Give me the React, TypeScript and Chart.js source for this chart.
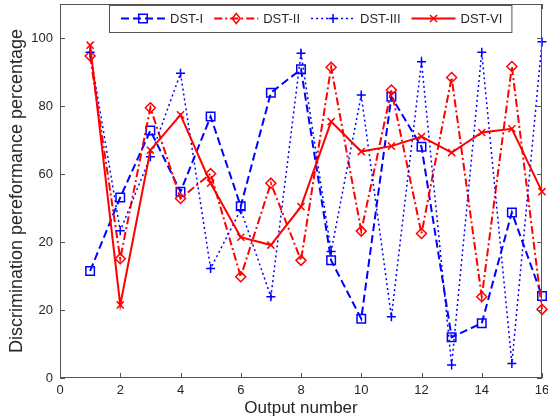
import React, { useEffect, useRef } from 'react';
import { Chart, registerables } from 'chart.js';

Chart.register(...registerables);

const outputNumbers = [1, 2, 3, 4, 5, 6, 7, 8, 9, 10, 11, 12, 13, 14, 15, 16];
const dstI = [31.5, 53.1, 72.8, 54.8, 76.9, 50.5, 83.9, 90.8, 34.6, 17.4, 82.7, 68.0, 12.0, 16.1, 48.7, 24.1];
const dstII = [94.7, 35.1, 79.5, 52.8, 60.1, 29.8, 57.3, 34.6, 91.4, 43.2, 84.7, 42.5, 88.4, 23.9, 91.6, 20.2];
const dstIII = [95.8, 43.3, 65.1, 89.6, 32.2, 49.5, 23.9, 95.5, 37.2, 83.2, 18.0, 93.0, 3.8, 95.8, 4.3, 98.9];
const dstVI = [97.9, 21.5, 67.0, 77.4, 57.3, 41.4, 39.1, 50.4, 75.4, 66.6, 68.2, 71.0, 66.3, 72.2, 73.3, 54.8];
const seriesLabels = ['DST-I', 'DST-II', 'DST-III', 'DST-VI'];
const xTickValues = [0, 2, 4, 6, 8, 10, 12, 14, 16];
const yTickValues = [0, 20, 40, 60, 80, 100];
const yTickLabels = ['0', '20', '20', '60', '80', '100'];
const xAxisTitle = 'Output number';
const yAxisTitle = 'Discrimination pereformance percentage';

const FONT = '"Liberation Sans", Arial, Helvetica, sans-serif';
const AXIS_COLOR = '#555555';
const TEXT_COLOR = '#262626';

type SeriesStyle = {
  color: string;
  dash: number[];
  width: number;
  marker: 'rect' | 'rectRot' | 'cross' | 'crossRot';
  radius: number;
};

const styles: SeriesStyle[] = [
  { color: '#0000ff', dash: [8, 4], width: 2, marker: 'rect', radius: 6 },
  { color: '#ff0000', dash: [8, 3, 2, 3], width: 2, marker: 'rectRot', radius: 5 },
  { color: '#0000ff', dash: [2, 3], width: 1.5, marker: 'cross', radius: 4.5 },
  { color: '#ff0000', dash: [], width: 2, marker: 'crossRot', radius: 5 },
];

function drawMarker(ctx: CanvasRenderingContext2D, s: SeriesStyle, x: number, y: number) {
  const r = s.radius;
  ctx.save();
  ctx.setLineDash([]);
  ctx.strokeStyle = s.color;
  ctx.lineWidth = 1.5;
  ctx.beginPath();
  if (s.marker === 'rect') {
    const h = r * Math.SQRT1_2;
    ctx.rect(x - h, y - h, 2 * h, 2 * h);
  } else if (s.marker === 'rectRot') {
    ctx.moveTo(x - r * 0.8, y);
    ctx.lineTo(x, y - r);
    ctx.lineTo(x + r * 0.8, y);
    ctx.lineTo(x, y + r);
    ctx.closePath();
  } else if (s.marker === 'cross') {
    ctx.moveTo(x - r, y);
    ctx.lineTo(x + r, y);
    ctx.moveTo(x, y - r);
    ctx.lineTo(x, y + r);
  } else {
    const h = r * Math.SQRT1_2;
    ctx.moveTo(x - h, y - h);
    ctx.lineTo(x + h, y + h);
    ctx.moveTo(x + h, y - h);
    ctx.lineTo(x - h, y + h);
  }
  ctx.stroke();
  ctx.restore();
}

const frameLegendPlugin = {
  id: 'frameLegend',
  afterDraw(chart: any) {
    const { ctx, chartArea, scales } = chart;
    const { left, right, top, bottom } = chartArea;
    const xs = scales.x;
    const ys = scales.y;
    ctx.save();
    ctx.strokeStyle = AXIS_COLOR;
    ctx.lineWidth = 1;
    ctx.setLineDash([]);
    ctx.strokeRect(left + 0.5, top + 0.5, right - left - 1, bottom - top - 1);
    const tl = 5;
    ctx.beginPath();
    xTickValues.forEach((v) => {
      const px = Math.round(xs.getPixelForValue(v)) + 0.5;
      ctx.moveTo(px, bottom);
      ctx.lineTo(px, bottom - tl);
      ctx.moveTo(px, top);
      ctx.lineTo(px, top + tl);
    });
    yTickValues.forEach((v) => {
      const py = Math.round(ys.getPixelForValue(v)) + 0.5;
      ctx.moveTo(left, py);
      ctx.lineTo(left + tl, py);
      ctx.moveTo(right, py);
      ctx.lineTo(right - tl, py);
    });
    ctx.stroke();

    // legend
    ctx.font = `13px ${FONT}`;
    const lineLen = 44;
    const gapText = 5;
    const gapItem = 11;
    const padL = 12;
    const padR = 9;
    let contentW = padL + padR;
    seriesLabels.forEach((lab, i) => {
      contentW += lineLen + gapText + ctx.measureText(lab).width + (i < seriesLabels.length - 1 ? gapItem : 0);
    });
    const boxL = 109;
    const boxT = top + 1;
    const boxH = 27;
    ctx.fillStyle = '#ffffff';
    ctx.fillRect(boxL, boxT, contentW, boxH);
    ctx.strokeStyle = AXIS_COLOR;
    ctx.strokeRect(boxL + 0.5, boxT + 0.5, contentW, boxH);
    const cy = boxT + boxH / 2;
    let cx = boxL + padL;
    seriesLabels.forEach((lab, i) => {
      const s = styles[i];
      ctx.save();
      ctx.strokeStyle = s.color;
      ctx.lineWidth = s.width;
      ctx.setLineDash(s.dash);
      ctx.beginPath();
      ctx.moveTo(cx, cy);
      ctx.lineTo(cx + lineLen, cy);
      ctx.stroke();
      ctx.restore();
      drawMarker(ctx, s, cx + lineLen / 2, cy);
      ctx.fillStyle = TEXT_COLOR;
      ctx.textBaseline = 'middle';
      ctx.textAlign = 'left';
      ctx.fillText(lab, cx + lineLen + gapText, cy + 1);
      cx += lineLen + gapText + ctx.measureText(lab).width + gapItem;
    });
    ctx.restore();
  },
};

function zeroPadding(scale: any) {
  scale.paddingTop = 0;
  scale.paddingBottom = 0;
  scale.paddingLeft = 0;
  scale.paddingRight = 0;
}

export default function App() {
  const canvasRef = useRef<HTMLCanvasElement | null>(null);

  useEffect(() => {
    document.body.style.margin = '0';
    const canvas = canvasRef.current;
    if (!canvas) return;
    const seriesValues = [dstI, dstII, dstIII, dstVI];
    const datasets = seriesValues.map((vals, i) => {
      const s = styles[i];
      return {
        label: seriesLabels[i],
        data: outputNumbers.map((x, k) => ({ x, y: vals[k] })),
        borderColor: s.color,
        backgroundColor: 'rgba(0,0,0,0)',
        borderWidth: s.width,
        borderDash: s.dash,
        pointStyle: s.marker,
        pointRadius: s.radius,
        pointBorderWidth: 1.5,
        pointBorderColor: s.color,
        pointBackgroundColor: 'rgba(0,0,0,0)',
        tension: 0,
        fill: false,
        clip: false,
        order: 3 - i,
      };
    });
    const chart = new Chart(canvas, {
      type: 'line',
      data: { datasets },
      options: {
        animation: false,
        responsive: false,
        devicePixelRatio: 1,
        layout: { autoPadding: false, padding: { left: 0, right: 6, top: 4, bottom: 0 } },
        plugins: { legend: { display: false }, tooltip: { enabled: false } },
        scales: {
          x: {
            type: 'linear',
            min: 0,
            max: 16,
            grid: { display: false, drawTicks: false },
            border: { display: false },
            afterBuildTicks: (scale: any) => {
              scale.ticks = xTickValues.map((v) => ({ value: v }));
            },
            afterFit: (scale: any) => {
              scale.height = 41;
              zeroPadding(scale);
            },
            ticks: {
              autoSkip: false,
              maxRotation: 0,
              padding: 5,
              color: TEXT_COLOR,
              font: { family: FONT, size: 13 },
              callback: (v: any) => String(v),
            },
            title: {
              display: true,
              text: xAxisTitle,
              color: TEXT_COLOR,
              font: { family: FONT, size: 17 },
              padding: { top: 0, bottom: 0 },
            },
          },
          y: {
            type: 'linear',
            min: 0,
            max: 110,
            grid: { display: false, drawTicks: false },
            border: { display: false },
            afterBuildTicks: (scale: any) => {
              scale.ticks = yTickValues.map((v) => ({ value: v }));
            },
            afterFit: (scale: any) => {
              scale.width = 60;
              zeroPadding(scale);
            },
            ticks: {
              autoSkip: false,
              padding: 7,
              color: TEXT_COLOR,
              font: { family: FONT, size: 13 },
              callback: (_v: any, idx: number) => yTickLabels[idx],
            },
            title: {
              display: true,
              text: yAxisTitle,
              color: TEXT_COLOR,
              font: { family: FONT, size: 18 },
              padding: { top: 6, bottom: 0 },
            },
          },
        },
      },
      plugins: [frameLegendPlugin],
    } as any);
    return () => chart.destroy();
  }, []);

  return (
    <div style={{ position: 'absolute', left: 0, top: 0, width: 548, height: 419, background: '#fff' }}>
      <canvas ref={canvasRef} width={548} height={419} style={{ display: 'block' }} />
    </div>
  );
}
